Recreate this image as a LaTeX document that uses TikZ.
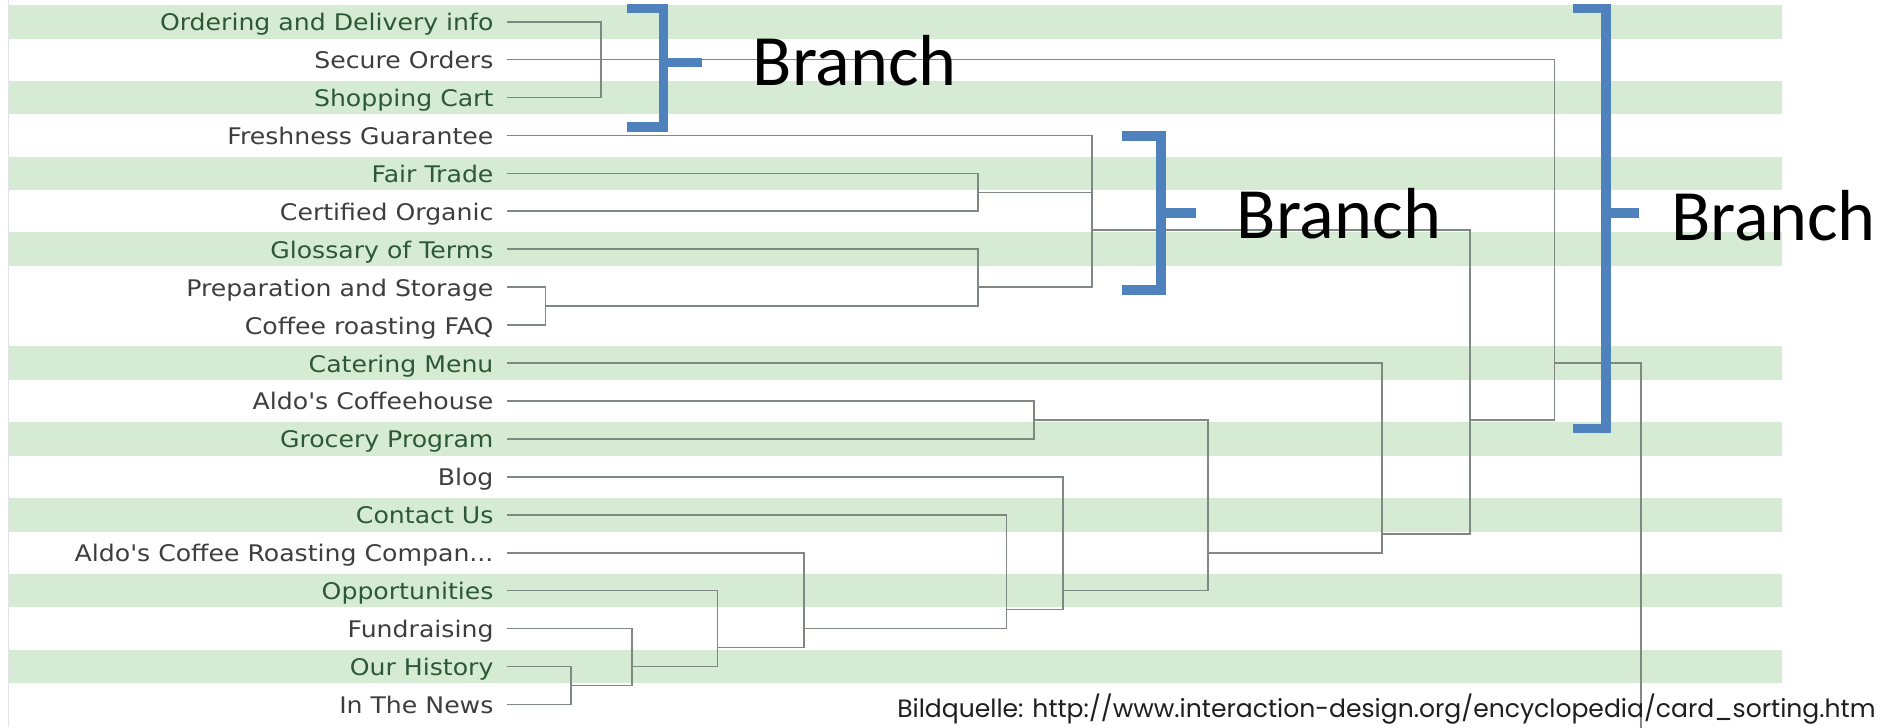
\documentclass[tikz,border=0pt]{standalone}
\usepackage{fontspec}
\newfontfamily\lblfont[FakeStretch=1.1]{DejaVu Sans}
\newfontfamily\brfont{Carlito}
\newfontfamily\srcfont{Poppins}
\definecolor{stripe}{RGB}{214,235,211}
\definecolor{lblgreen}{RGB}{45,88,55}
\definecolor{lblgray}{RGB}{62,62,62}
\definecolor{dline}{RGB}{128,136,130}
\definecolor{brblue}{RGB}{79,129,189}
\definecolor{edge}{RGB}{222,228,234}
\begin{document}
\begin{tikzpicture}[x=1pt,y=-1pt,
  band/.style={fill=stripe,draw=none},
  lblg/.style={font=\lblfont\fontsize{19}{22}\selectfont,text=lblgreen,anchor=base east,inner sep=0pt},
  lbly/.style={font=\lblfont\fontsize{19}{22}\selectfont,text=lblgray,anchor=base east,inner sep=0pt},
  dendro/.style={draw=dline,line width=1.4pt},
  bracketline/.style={draw=brblue,line width=8pt,line cap=butt,line join=miter},
  branchtext/.style={font=\brfont\fontsize{60}{66}\selectfont,anchor=base west,inner sep=0pt,text=black},
  srctext/.style={font=\srcfont\fontsize{20.8}{25}\selectfont,anchor=base west,inner sep=0pt,text=black!88}]
\useasboundingbox (0,0) rectangle (1568,604);
\clip (0,0) rectangle (1568,604);
\fill[white] (0,0) rectangle (1568,604);
% stripes
\foreach \i in {0,2,4,6,9,11,13,15,17}
  \fill[band] (7,{18+31.5*\i-14}) rectangle (1480,{18+31.5*\i+14});
\draw[edge,line width=1.5pt] (7,0) -- (7,604);
% leaf start points
\foreach \i in {0,...,18}
  \coordinate (s\i) at (421,{18+31.5*\i});
% merge points
\coordinate (mA) at (499,49.5);
\coordinate (mFC) at (812,159.75);
\coordinate (mPF) at (453,254.25);
\coordinate (mG) at (812,238.5);
\coordinate (mB) at (907,191.25);
\coordinate (mHN) at (474,569.25);
\coordinate (mFu) at (525,553.5);
\coordinate (mOp) at (596,537.75);
\coordinate (mAR) at (668,522);
\coordinate (mCo) at (836,506.25);
\coordinate (mBl) at (883,490.5);
\coordinate (mCG) at (859,348.75);
\coordinate (mX) at (1003,459);
\coordinate (mCa) at (1148,443.25);
\coordinate (mMid) at (1221,348.75);
\coordinate (mTop) at (1291,301.5);
\coordinate (rootbot) at (1363,612);
% dendrogram
\draw[dendro] (s0) -| (mA) |- (s2);
\draw[dendro] (s1) -- (mA);
\draw[dendro] (s4) -| (mFC) |- (s5);
\draw[dendro] (s7) -| (mPF) |- (s8);
\draw[dendro] (s6) -| (mG) |- (mPF);
\draw[dendro] (s3) -| (mB) |- (mG);
\draw[dendro] (mFC) -- (mFC -| mB);
\draw[dendro] (s17) -| (mHN) |- (s18);
\draw[dendro] (s16) -| (mFu) |- (mHN);
\draw[dendro] (s15) -| (mOp) |- (mFu);
\draw[dendro] (s14) -| (mAR) |- (mOp);
\draw[dendro] (s13) -| (mCo) |- (mAR);
\draw[dendro] (s12) -| (mBl) |- (mCo);
\draw[dendro] (s10) -| (mCG) |- (s11);
\draw[dendro] (mCG) -| (mX) |- (mBl);
\draw[dendro] (s9) -| (mCa) |- (mX);
\draw[dendro] (mB) -| (mMid) |- (mCa);
\draw[dendro] (mA) -| (mTop) |- (mMid);
\draw[dendro] (mTop) -| (rootbot);
% labels
\node[lblg] (l0) at (410,25.5) {Ordering and Delivery info};
\node[lbly] (l1) at (410,57) {Secure Orders};
\node[lblg] (l2) at (410,88.5) {Shopping Cart};
\node[lbly] (l3) at (410,120) {Freshness Guarantee};
\node[lblg] (l4) at (410,151.5) {Fair Trade};
\node[lbly] (l5) at (410,183) {Certified Organic};
\node[lblg] (l6) at (410,214.5) {Glossary of Terms};
\node[lbly] (l7) at (410,246) {Preparation and Storage};
\node[lbly] (l8) at (410,277.5) {Coffee roasting FAQ};
\node[lblg] (l9) at (410,309) {Catering Menu};
\node[lbly] (l10) at (410,340.5) {Aldo's Coffeehouse};
\node[lblg] (l11) at (410,372) {Grocery Program};
\node[lbly] (l12) at (410,403.5) {Blog};
\node[lblg] (l13) at (410,435) {Contact Us};
\node[lbly] (l14) at (410,466.5) {Aldo's Coffee Roasting Compan...};
\node[lblg] (l15) at (410,498) {Opportunities};
\node[lbly] (l16) at (410,529.5) {Fundraising};
\node[lblg] (l17) at (410,561) {Our History};
\node[lbly] (l18) at (410,592.5) {In The News};
% brackets
\draw[bracketline] (521,7) -- (551,7) -- (551,105.5) -- (521,105.5);
\draw[bracketline] (551,52) -- (583,52);
\draw[bracketline] (932,113) -- (964,113) -- (964,241) -- (932,241);
\draw[bracketline] (964,177) -- (993,177);
\draw[bracketline] (1306,7) -- (1334,7) -- (1334,356) -- (1306,356);
\draw[bracketline] (1334,177) -- (1361,177);
% branch texts
\node[branchtext] (br1) at (625,71) {Branch};
\node[branchtext] (br2) at (1027,198) {Branch};
\node[branchtext] (br3) at (1388,200) {Branch};
% source
\node[srctext] (src) at (745,596) {Bildquelle: http://www.interaction-design.org/encyclopedia/card\_sorting.htm};
\end{tikzpicture}
\end{document}
